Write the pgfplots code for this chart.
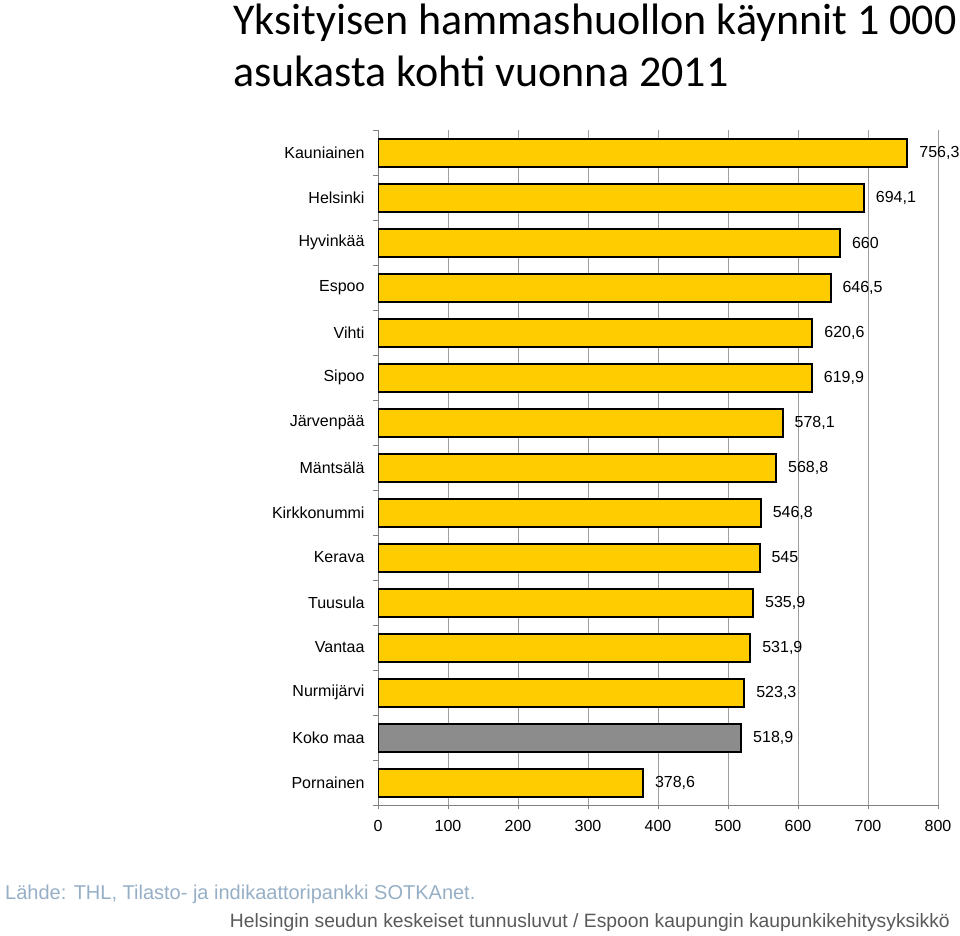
\documentclass[border=0pt]{standalone}
\usepackage{fontspec}
\setmainfont{Liberation Sans}
\newfontfamily\titlefont{Carlito}
\usepackage{pgfplots}
\pgfplotsset{compat=1.18}
\definecolor{baryellow}{RGB}{255,204,0}
\definecolor{bargray}{RGB}{140,140,140}
\definecolor{srcblue}{RGB}{150,175,198}
\definecolor{footgray}{RGB}{89,89,89}
\begin{document}
\begin{tikzpicture}[x=1pt,y=1pt]
\path[use as bounding box] (0pt,0pt) rectangle (960pt,-935pt);
\node[anchor=base west, inner sep=0, font=\titlefont\fontsize{44}{52}\selectfont] at (233pt,-34pt) {Yksityisen hammashuollon käynnit 1 000};
\node[anchor=base west, inner sep=0, font=\titlefont\fontsize{44}{52}\selectfont] at (233pt,-86pt) {asukasta kohti vuonna 2011};
\begin{axis}[
  at={(378pt,-805pt)}, anchor=south west,
  scale only axis, width=560pt, height=675pt,
  xbar, bar shift=0pt, bar width=28pt,
  xmin=0, xmax=800, ymin=-0.5, ymax=14.5,
  ytick={0,...,14},
  yticklabels={Pornainen,Koko maa,Nurmijärvi,Vantaa,Tuusula,Kerava,Kirkkonummi,Mäntsälä,Järvenpää,Sipoo,Vihti,Espoo,Hyvinkää,Helsinki,Kauniainen},
  minor ytick={-0.5,0.5,...,14.5},
  major y tick style={draw=none},
  xtick={0,100,...,800},
  xmajorgrids, grid style={draw=gray!75, line width=0.8pt},
  axis x line*=bottom, axis y line*=left,
  axis line style={draw=gray, line width=1pt, -},
  tick align=outside,
  tick style={draw=gray, line width=0.8pt},
  major tick length=4pt, minor tick length=5pt,
  tick label style={font=\fontsize{16}{19}\selectfont},
  yticklabel style={xshift=-6pt},
  xticklabel style={yshift=-8pt},
  /pgf/number format/assume math mode=true,
  nodes near coords,
  nodes near coords style={anchor=west, inner sep=0pt, xshift=11pt, font=\fontsize{16}{19}\selectfont, text=black, /pgf/number format/use comma},
]
\addplot[draw=black, line width=2pt, fill=baryellow] coordinates {
(378.6,0) (523.3,2) (531.9,3) (535.9,4) (545,5) (546.8,6) (568.8,7) (578.1,8) (619.9,9) (620.6,10) (646.5,11) (660,12) (694.1,13) (756.3,14)};
\addplot[draw=black, line width=2pt, fill=bargray] coordinates {(518.9,1)};
\end{axis}
\node[anchor=base west, inner sep=0, text=srcblue, font=\fontsize{20}{24}\selectfont] at (5pt,-899pt) {Lähde: THL, Tilasto- ja indikaattoripankki SOTKAnet.};
\node[anchor=base east, inner sep=0, text=footgray, font=\fontsize{19.3}{23}\selectfont] at (950pt,-927pt) {Helsingin seudun keskeiset tunnusluvut / Espoon kaupungin kaupunkikehitysyksikkö};
\end{tikzpicture}
\end{document}
